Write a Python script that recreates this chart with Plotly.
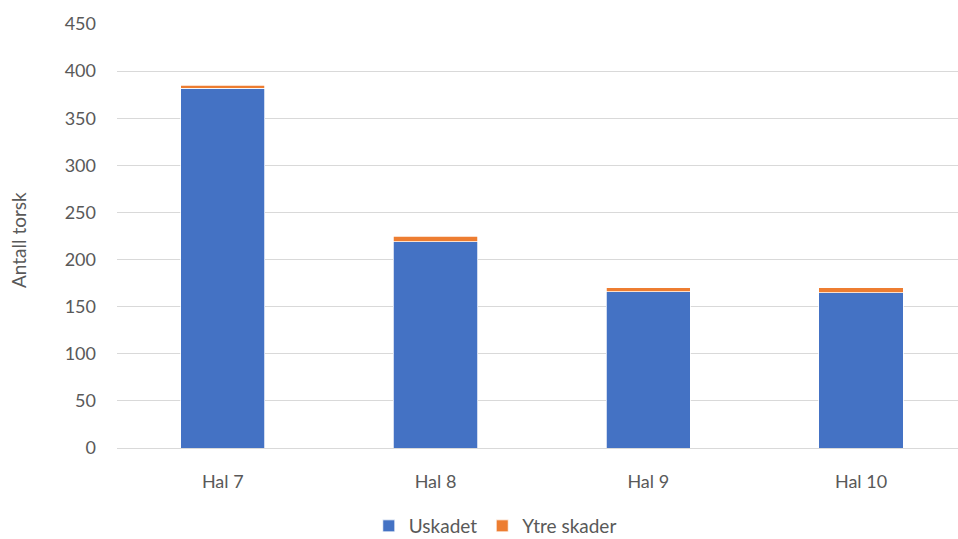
import plotly.graph_objects as go

categories = ["Hal 7", "Hal 8", "Hal 9", "Hal 10"]
uskadet = [382, 219, 166, 165]
ytre_skader = [3, 6, 4, 5]
y_ticks = [0, 50, 100, 150, 200, 250, 300, 350, 400, 450]

W, H = 958, 539
L, R, T, B = 117, 0, 24, 91
FONT = "Lato, 'Open Sans', sans-serif"
GREY = "#595959"

fig = go.Figure()
fig.add_trace(go.Bar(x=categories, y=uskadet, name="Uskadet",
                     marker=dict(color="#4472C4", line=dict(color="white", width=0.75)),
                     width=0.396))
fig.add_trace(go.Bar(x=categories, y=ytre_skader, name="Ytre skader",
                     marker=dict(color="#ED7D31", line=dict(color="white", width=0.75)),
                     width=0.396))

fig.update_layout(
    barmode="stack",
    width=W, height=H,
    margin=dict(l=L, r=R, t=T, b=B, autoexpand=False),
    paper_bgcolor="white", plot_bgcolor="white",
    font=dict(family=FONT, size=18, color=GREY),
    showlegend=True,
    legend=dict(orientation="h", xref="container", yref="container",
                x=0.517, y=1 - 526 / H, xanchor="center", yanchor="middle",
                font=dict(size=19, color=GREY), itemwidth=30,
                traceorder="normal"),
    xaxis=dict(type="category", range=[-0.497, 3.456], showgrid=False,
               showline=False, ticks="", ticklabelstandoff=21,
               tickfont=dict(size=18, color=GREY)),
    yaxis=dict(range=[0, 450], tickvals=y_ticks, showgrid=True,
               gridcolor="#D9D9D9", gridwidth=1, zeroline=True,
               zerolinecolor="#D9D9D9", zerolinewidth=1, showline=False,
               ticks="", ticklabelstandoff=20,
               tickfont=dict(size=18, color=GREY)),
    annotations=[dict(text="Antall torsk", textangle=-90, xref="paper", yref="paper",
                      x=(18 - L) / (W - L - R), y=(448 - 240) / 424,
                      xanchor="center", yanchor="middle", showarrow=False,
                      font=dict(size=19, color=GREY))],
)

fig.write_html("out.html")
